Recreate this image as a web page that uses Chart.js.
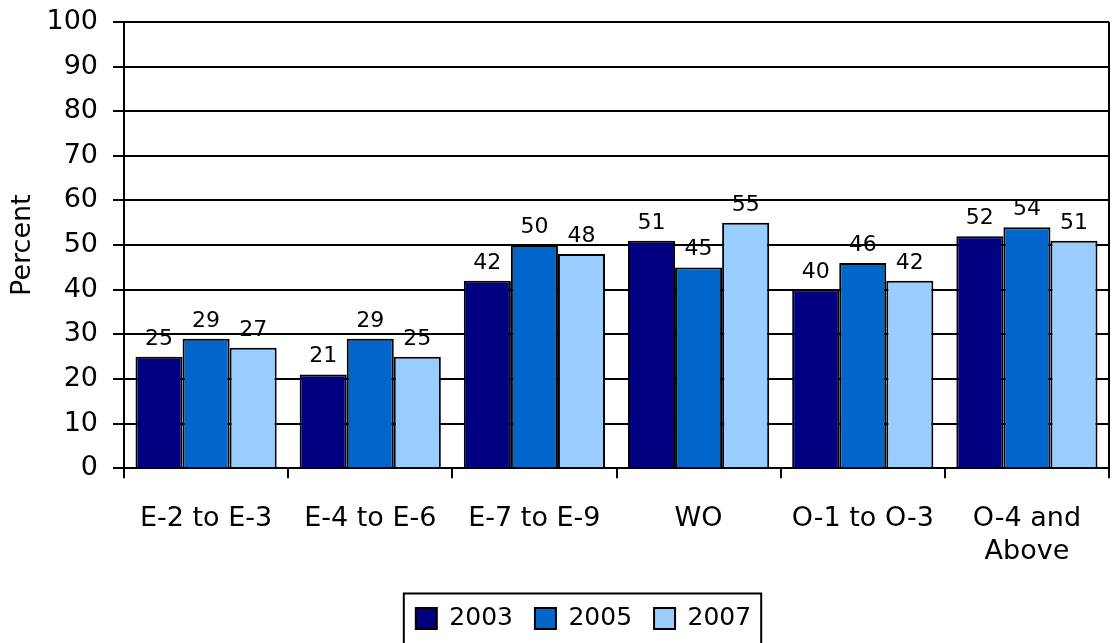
<!DOCTYPE html>
<html>
<head>
<meta charset="utf-8">
<script src="https://cdn.jsdelivr.net/npm/chart.js@4/dist/chart.umd.min.js"></script>
<style>
  html, body { margin: 0; padding: 0; background: #fff; }
  #wrap { width: 1112px; height: 643px; }
</style>
</head>
<body>
<div id="wrap"><canvas id="rankChart"></canvas></div>
<script>
var categories = ["E-2 to E-3", "E-4 to E-6", "E-7 to E-9", "WO", "O-1 to O-3", ["O-4 and", "Above"]];
var years = ["2003", "2005", "2007"];
var values2003 = [25, 21, 42, 51, 40, 52];
var values2005 = [29, 29, 50, 45, 46, 54];
var values2007 = [27, 25, 48, 55, 42, 51];
var yTicks = [0, 10, 20, 30, 40, 50, 60, 70, 80, 90, 100];

var fontFamily = "'DejaVu Sans', Verdana, sans-serif";
var legendShift = 28;

// labels above each bar
var barLabels = {
    id: 'barLabels',
    afterDatasetsDraw: function(chart) {
        var ctx = chart.ctx;
        ctx.save();
        ctx.fillStyle = '#000';
        ctx.font = '22px ' + fontFamily;
        ctx.textAlign = 'center';
        ctx.textBaseline = 'alphabetic';
        chart.data.datasets.forEach(function(ds, i) {
            chart.getDatasetMeta(i).data.forEach(function(bar, j) {
                ctx.fillText(ds.data[j], bar.x, bar.y - 12);
            });
        });
        ctx.restore();
    }
};

// right border of the plot and the box round the legend
var frame = {
    id: 'frame',
    afterLayout: function(chart) {
        // legend sits a little right of centre in the original
        chart.legend.left += legendShift;
        chart.legend.right += legendShift;
    },
    afterDraw: function(chart) {
        var ctx = chart.ctx;
        var area = chart.chartArea;
        ctx.save();
        ctx.strokeStyle = '#000';
        ctx.lineWidth = 2;
        ctx.beginPath();
        ctx.moveTo(area.right, area.top);
        ctx.lineTo(area.right, area.bottom);
        ctx.stroke();

        var boxes = chart.legend.legendHitBoxes;
        if (boxes && boxes.length) {
            var left = boxes[0].left - 12;
            var last = boxes[boxes.length - 1];
            var right = last.left + last.width + 10;
            var mid = boxes[0].top + boxes[0].height / 2;
            ctx.strokeRect(left, mid - 25, right - left, 51);
        }
        ctx.restore();
    }
};

var ctx = document.getElementById("rankChart").getContext("2d");
new Chart(ctx, {
    type: 'bar',
    data: {
        labels: categories,
        datasets: [
            { label: years[0], data: values2003, backgroundColor: "#000080", borderColor: "#000", borderWidth: 2 },
            { label: years[1], data: values2005, backgroundColor: "#0066CC", borderColor: "#000", borderWidth: 2 },
            { label: years[2], data: values2007, backgroundColor: "#99CCFF", borderColor: "#000", borderWidth: 2 }
        ]
    },
    options: {
        responsive: true,
        maintainAspectRatio: false,
        animation: false,
        layout: { padding: { top: 22, right: 3, left: 2, bottom: 2 } },
        datasets: { bar: { categoryPercentage: 0.86, barPercentage: 1.0 } },
        plugins: {
            tooltip: { enabled: false },
            legend: {
                position: 'bottom',
                padding: 0,
                labels: {
                    color: '#000',
                    font: { family: fontFamily, size: 25 },
                    boxWidth: 21,
                    boxHeight: 21,
                    padding: 22,
                    generateLabels: function(chart) {
                        return chart.data.datasets.map(function(ds, i) {
                            return {
                                text: ds.label,
                                fillStyle: ds.backgroundColor,
                                strokeStyle: '#000',
                                lineWidth: 2,
                                fontColor: '#000',
                                datasetIndex: i
                            };
                        });
                    }
                }
            }
        },
        scales: {
            x: {
                grid: { drawOnChartArea: false, color: '#000', lineWidth: 2, tickLength: 10 },
                border: { color: '#000', width: 2 },
                ticks: { color: '#000', font: { family: fontFamily, size: 27 }, padding: 25, maxRotation: 0 },
                afterFit: function(axis) { axis.height -= 9; }
            },
            y: {
                min: 0,
                max: 100,
                afterBuildTicks: function(axis) {
                    axis.ticks = yTicks.map(function(v) { return { value: v }; });
                },
                afterFit: function(axis) {
                    axis.width = 122;
                    axis.paddingTop = 0;
                    axis.paddingBottom = 0;
                },
                grid: { color: '#000', lineWidth: 2, tickLength: 11 },
                border: { color: '#000', width: 2 },
                ticks: { color: '#000', font: { family: fontFamily, size: 27 }, padding: 15 },
                title: { display: true, text: 'Percent', color: '#000', font: { family: fontFamily, size: 27 }, padding: 5 }
            }
        }
    },
    plugins: [barLabels, frame]
});
</script>
</body>
</html>
